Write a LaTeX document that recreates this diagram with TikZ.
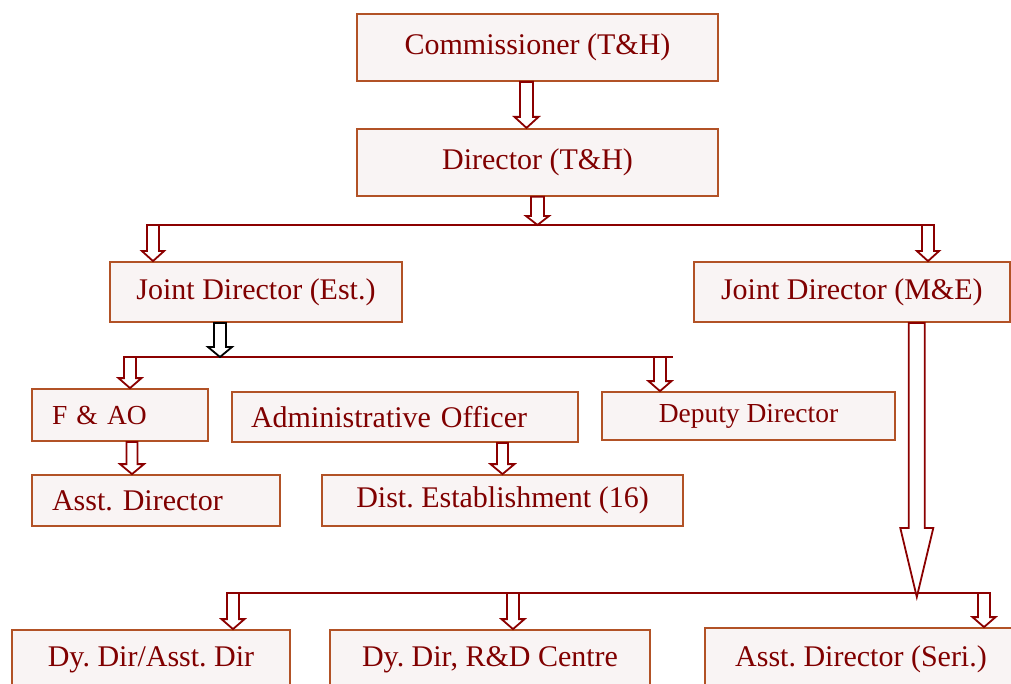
\documentclass[tikz,border=0pt]{standalone}
\usepackage{fontspec}
\setmainfont{Liberation Serif}
\usetikzlibrary{positioning,calc}
\frenchspacing
\definecolor{boxline}{RGB}{178,82,38}
\definecolor{boxfill}{RGB}{249,244,244}
\definecolor{boxtext}{RGB}{128,0,0}
\definecolor{arrowred}{RGB}{139,0,0}
% block arrow pointing down: [opts]{from}{to}{shaft half width}{head half width}{head length}
\newcommand{\blkarrow}[6][]{%
 \draw[blk,#1] let \p1=#2, \p2=#3 in
 (\x1-#4,\y1) -- (\x1+#4,\y1) -- (\x1+#4,\y2+#6) -- (\x1+#5,\y2+#6)
 -- (\x1,\y2) -- (\x1-#5,\y2+#6) -- (\x1-#4,\y2+#6) -- cycle;}

\begin{document}
\begin{tikzpicture}[x=1pt, y=-1pt,
 box/.style={draw=boxline, line width=1.8pt, fill=boxfill, text=boxtext, inner sep=0pt, font=\fontsize{30}{36}\selectfont},
 lbox/.style={box, inner xsep=20pt, align=left},
 blk/.style={draw=arrowred, line width=1.8pt, fill=white, line join=miter},
 bus/.style={draw=arrowred, line width=2.2pt}]
\useasboundingbox (0,0) rectangle (1011,684);
\node[box, minimum width=361pt, minimum height=67pt] (comm) at (537.5,47.5) {Commissioner (T\&H)};
\node[box, minimum width=361pt, minimum height=67pt, below=46pt of comm] (dir) {Director (T\&H)};
\node[box, minimum width=292pt, minimum height=60pt] (jde) at (256,292) {Joint Director (Est.)};
\node[box, minimum width=316pt, minimum height=60pt, right=290pt of jde] (jdm) {Joint Director (M\&E)};
\node[lbox, text width=136pt, minimum height=52pt, font=\fontsize{27.5}{33}\selectfont] (fao) at (120,415) {F \& AO};
\node[lbox, text width=308pt, minimum height=50pt, inner xsep=19pt] (ao) at (405,417) {Administrative Officer};
\node[box, minimum width=293pt, minimum height=48pt, font=\fontsize{27.5}{33}\selectfont] (dd) at (748.5,416) {Deputy Director};
\node[lbox, text width=208pt, minimum height=51pt] (ad) at (156,500.5) {Asst. Director};
\node[box, minimum width=361pt, minimum height=51pt] (de) at (502.5,500.5) {Dist. Establishment (16)};
\node[box, minimum width=278pt, minimum height=60pt] (dyd) at (151,660) {Dy. Dir/Asst. Dir};
\node[box, minimum width=320pt, minimum height=60pt] (rnd) at (490,660) {Dy. Dir, R\&D Centre};
\node[box, minimum width=312pt, minimum height=62pt] (seri) at (861,659) {Asst. Director (Seri.)};

\coordinate (t1) at (536.5,225);
\coordinate (t1w) at (147,225);
\coordinate (t1e) at (934,225);
\coordinate (j1) at (153,225);
\coordinate (j2) at (928,225);
\coordinate (t2) at (220,357);
\coordinate (t2w) at (125,357);
\coordinate (t2e) at (673,357);
\coordinate (k1) at (130,357);
\coordinate (k2) at (660,357);
\coordinate (t3) at (915,597);
\coordinate (t3w) at (229,593);
\coordinate (t3e) at (987,593);
\coordinate (m1) at (233,593);
\coordinate (m2) at (513,593);
\coordinate (m3) at (984,593);

\blkarrow{([xshift=-11pt]comm.south)}{(dir.north)}{6.5pt}{12pt}{11pt}
\draw[bus] (t1w) -- (t1e);
\blkarrow{(dir.south)}{(t1)}{6.5pt}{11.5pt}{9pt}
\blkarrow{(j1)}{(jde.north)}{6pt}{11pt}{10pt}
\blkarrow{(j2)}{(jdm.north)}{6pt}{11pt}{10pt}

\draw[bus] (t2w) -- (t2e);
\blkarrow[draw=black]{([xshift=-36pt]jde.south)}{(t2)}{6pt}{12pt}{10pt}
\blkarrow{(k1)}{(fao.north)}{6pt}{11.5pt}{10pt}
\blkarrow{(k2)}{(dd.north)}{6pt}{11.5pt}{10pt}
\blkarrow{([xshift=12pt]fao.south)}{(ad.north)}{5.5pt}{12pt}{10pt}
\blkarrow{(ao.south -| de.north)}{(de.north)}{5.5pt}{12pt}{10pt}

\draw[bus] (t3w) -- (t3e);
\blkarrow{([xshift=65pt]jdm.south)}{(t3)}{8pt}{16.5pt}{69pt}
\blkarrow{(m1)}{(dyd.north)}{6pt}{11.5pt}{10pt}
\blkarrow{(m2)}{(rnd.north)}{6pt}{11.5pt}{10pt}
\blkarrow{(m3)}{(seri.north)}{6pt}{11.5pt}{10pt}
\end{tikzpicture}
\end{document}
